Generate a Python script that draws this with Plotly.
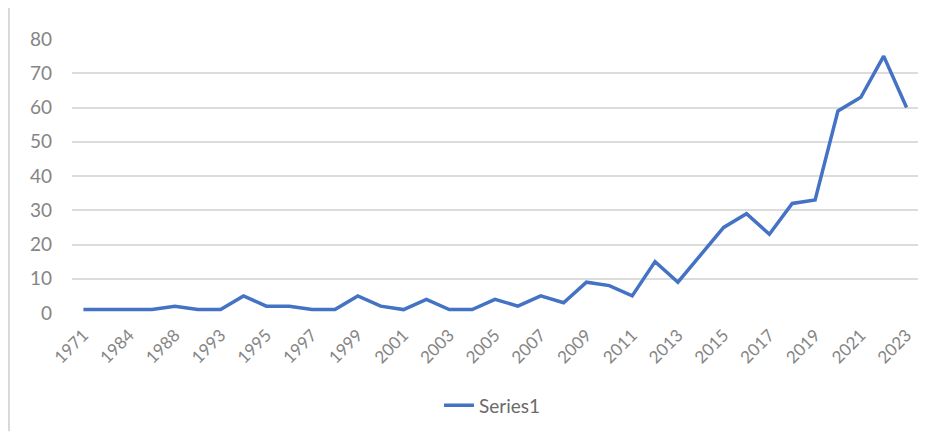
import plotly.graph_objects as go

years = ["1971", "1980", "1984", "1986", "1988", "1990", "1993", "1994", "1995", "1996",
         "1997", "1998", "1999", "2000", "2001", "2002", "2003", "2004", "2005", "2006",
         "2007", "2008", "2009", "2010", "2011", "2012", "2013", "2014", "2015", "2016",
         "2017", "2018", "2019", "2020", "2021", "2022", "2023"]
values = [1, 1, 1, 1, 2, 1, 1, 5, 2, 2,
          1, 1, 5, 2, 1, 4, 1, 1, 4, 2,
          5, 3, 9, 8, 5, 15, 9, 17, 25, 29,
          23, 32, 33, 59, 63, 75, 60]
series_name = "Series1"
y_ticks = [0, 10, 20, 30, 40, 50, 60, 70, 80]

tick_idx = list(range(0, len(years), 2))

fig = go.Figure()
fig.add_trace(go.Scatter(
    x=list(range(len(years))), y=values, mode="lines", name=series_name,
    line=dict(color="#4472C4", width=3.5),
))

fig.update_layout(
    width=941, height=432,
    margin=dict(l=72, r=23, t=39, b=118.5, autoexpand=False),
    paper_bgcolor="white", plot_bgcolor="white",
    font=dict(family="Lato, Liberation Sans, sans-serif", color="#7f7f7f", size=14),
    showlegend=True,
    legend=dict(orientation="h", x=0.497, xanchor="center", y=-0.337, yanchor="middle",
                font=dict(size=19, color="#6a6a6a")),
    xaxis=dict(
        range=[-0.5, len(years) - 0.5], automargin=False,
        tickmode="array", tickvals=tick_idx, ticktext=[years[i] for i in tick_idx],
        tickangle=-45, showgrid=False, zeroline=False, showline=False,
        tickfont=dict(size=17, color="#858585"), ticks="", ticklabelstandoff=8,
    ),
    yaxis=dict(
        range=[0, 80], tickvals=y_ticks, showgrid=True, gridcolor="#dcdcdc", gridwidth=1.5,
        zeroline=False, showline=False, ticks="", ticklabelstandoff=19, automargin=False,
        tickfont=dict(size=19, color="#858585"),
    ),
    shapes=[dict(type="line", xref="paper", yref="paper",
                 x0=(9 - 72) / 846, x1=(9 - 72) / 846,
                 y0=(313.5 - 8) / 274.5, y1=(313.5 - 432) / 274.5,
                 line=dict(color="#d9d9d9", width=2))],
)

fig.write_html("out.html")
